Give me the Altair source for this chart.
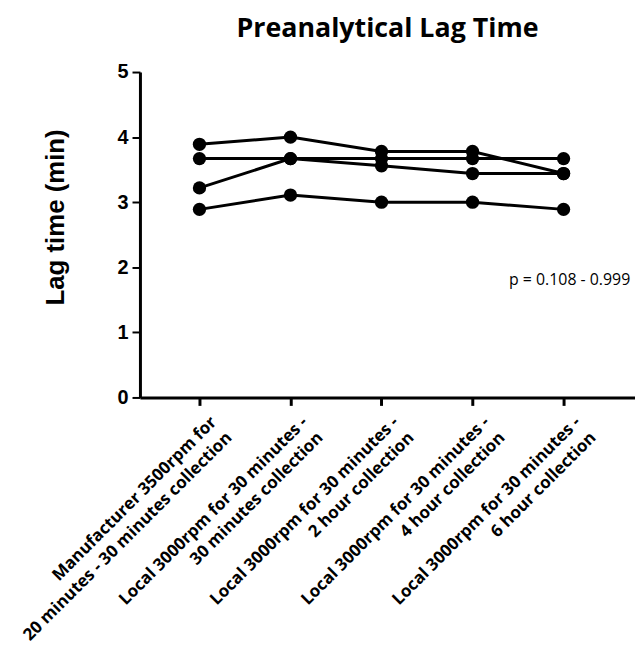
import altair as alt
import pandas as pd

categories = [
    ["Manufacturer 3500rpm for", "20 minutes - 30 minutes collection"],
    ["Local 3000rpm for 30 minutes -", "30 minutes collection"],
    ["Local 3000rpm for 30 minutes -", "2 hour collection"],
    ["Local 3000rpm for 30 minutes -", "4 hour collection"],
    ["Local 3000rpm for 30 minutes -", "6 hour collection"],
]
series_a = [3.89, 4.00, 3.78, 3.78, 3.44]
series_b = [3.67, 3.67, 3.67, 3.67, 3.67]
series_c = [3.22, 3.67, 3.56, 3.44, 3.44]
series_d = [2.89, 3.11, 3.00, 3.00, 2.89]
y_ticks = [0, 1, 2, 3, 4, 5]
annotation = "p = 0.108 - 0.999"

rows = []
for name, vals in [("A", series_a), ("B", series_b), ("C", series_c), ("D", series_d)]:
    for i, v in enumerate(vals):
        rows.append({"subject": name, "idx": i, "lag": v})
df = pd.DataFrame(rows)

label_lines = "[" + ",".join(
    "[" + ",".join("'" + s + "'" for s in c) + "]" for c in categories
) + "]"

x_enc = alt.X(
    "idx:Q",
    scale=alt.Scale(domain=[-0.654, 4.785], nice=False, zero=False),
    axis=alt.Axis(
        values=list(range(len(categories))),
        labelExpr=label_lines + "[datum.value]",
        labelAngle=-45,
        labelAlign="right",
        labelBaseline="middle",
        labelFont="Open Sans",
        labelFontWeight="bold",
        labelFontSize=17,
        labelColor="black",
        labelPadding=14,
        labelOffset=14,
        labelLineHeight=22,
        labelLimit=0,
        title=None,
        grid=False,
        domainColor="black",
        domainWidth=3,
        tickColor="black",
        tickWidth=3,
        tickSize=8,
        labelOverlap=False,
        labelBound=False,
        labelFlush=False,
    ),
)
y_enc = alt.Y(
    "lag:Q",
    scale=alt.Scale(domain=[0, 5], nice=False),
    axis=alt.Axis(
        values=y_ticks,
        format="d",
        title="Lag time (min)",
        titleFont="Liberation Sans",
        titleFontSize=26,
        titleFontWeight="bold",
        titleColor="black",
        titleX=-72,
        titleY=146,
        labelFont="Liberation Sans",
        labelFontSize=20,
        labelFontWeight="bold",
        labelColor="black",
        labelPadding=4,
        grid=False,
        domainColor="black",
        domainWidth=3,
        tickColor="black",
        tickWidth=2,
        tickSize=8,
    ),
)

lines = alt.Chart(df).mark_line(color="black", strokeWidth=3).encode(
    x=x_enc, y=y_enc, detail="subject:N"
)
points = alt.Chart(df).mark_circle(color="black", opacity=1, size=180).encode(
    x="idx:Q", y="lag:Q"
)
ann = alt.Chart(pd.DataFrame({"t": [annotation]})).mark_text(
    font="Open Sans", fontSize=16, align="left", baseline="alphabetic", color="black"
).encode(text="t:N", x=alt.value(372), y=alt.value(215))

chart = (
    alt.layer(lines, points, ann)
    .properties(
        width=499,
        height=328,
        title=alt.TitleParams(
            "Preanalytical Lag Time",
            font="Open Sans",
            fontSize=27,
            fontWeight="bold",
            color="black",
            anchor="middle",
            offset=19,
        ),
        autosize="none",
        padding={"left": 133, "top": 62, "right": 0, "bottom": 250},
    )
    .configure_view(stroke=None)
)

chart.save("out.html", embed_options={"renderer": "svg", "actions": False})
